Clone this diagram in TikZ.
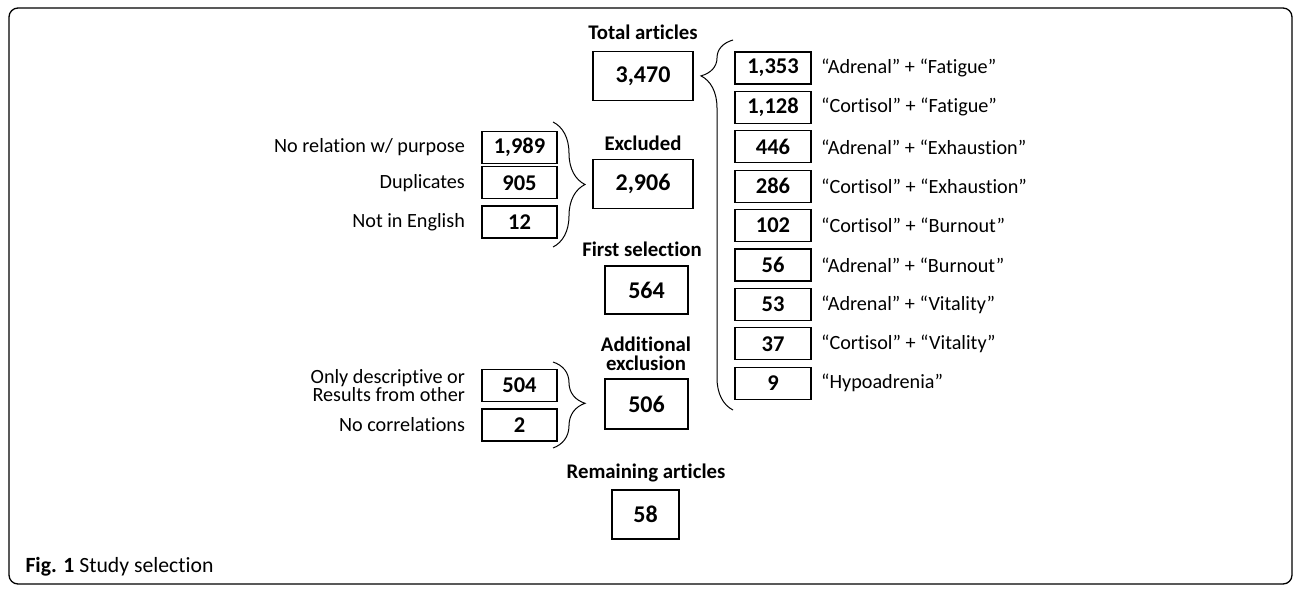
\documentclass[tikz,border=0pt]{standalone}
\usepackage{fontspec}
\setmainfont{Carlito}[Ligatures=NoCommon]
\usetikzlibrary{decorations.pathreplacing}
\tikzset{>=stealth}
\tikzset{
  bigbox/.style={draw,line width=1.8pt,minimum width=100pt,minimum height=49pt,inner sep=0pt,font=\bfseries\fontsize{24}{26}\selectfont},
  numbox/.style={draw,line width=1.1pt,minimum width=76pt,minimum height=32pt,inner sep=0pt,font=\bfseries\fontsize{22.5}{24}\selectfont},
  head/.style={font=\bfseries\fontsize{20.8}{18.5}\selectfont,align=center},
  txt/.style={font=\fontsize{20.2}{17}\selectfont},
  curly/.style={decorate,decoration={brace,amplitude=32pt,aspect=#1},line width=1pt}
}

\begin{document}
\begin{tikzpicture}[x=1pt,y=-1pt]
\useasboundingbox (0,0) rectangle (1296,590);
\draw[line width=1.3pt,rounded corners=9pt] (9,8) rectangle (1292,584);

% middle column
\node[head] (htot) at (643,32) {Total articles};
\node[bigbox] (tot) at (643,76) {3,470};
\node[head] (hexcl) at (643,143) {Excluded};
\node[bigbox] (excl) at (643,184) {2,906};
\node[head] (hfirst) at (642,249) {First selection};
\node[bigbox,minimum width=83pt,minimum height=48pt] (first) at (646.5,290) {564};
\node[head] (haddx) at (646,354) {Additional\\exclusion};
\node[bigbox,minimum width=83pt,minimum height=50pt] (addx) at (646.5,404) {506};
\node[head] (hrem) at (646,473) {Remaining articles};
\node[bigbox,minimum width=67pt] (rem) at (645.5,514.5) {58};

% search terms
\foreach \n/\t [count=\i] in {{1,353}/{“Adrenal” + “Fatigue”},{1,128}/{“Cortisol” + “Fatigue”},
  446/{“Adrenal” + “Exhaustion”},286/{“Cortisol” + “Exhaustion”},102/{“Cortisol” + “Burnout”},
  56/{“Adrenal” + “Burnout”},53/{“Adrenal” + “Vitality”},37/{“Cortisol” + “Vitality”},9/{“Hypoadrenia”}}{
  \node[numbox] (r\i) at (773,{68+39.4*(\i-1)}) {\n};
  \node[txt,anchor=west,xshift=6pt] (rl\i) at (r\i.east) {\t};
}

% exclusion reasons
\node[numbox,minimum width=75pt] (l1) at (519.5,147.5) {1,989};
\node[numbox,minimum width=75pt] (l2) at (519.5,182.7) {905};
\node[numbox,minimum width=75pt] (l3) at (519.5,222) {12};
\node[txt,anchor=east,xshift=-13pt] (ll1) at (l1.west) {No relation w/ purpose};
\node[txt,anchor=east,xshift=-13pt] (ll2) at (l2.west) {Duplicates};
\node[txt,anchor=east,xshift=-13pt] (ll3) at (l3.west) {Not in English};

\node[numbox,minimum width=75pt] (m1) at (519.5,385.5) {504};
\node[numbox,minimum width=75pt] (m2) at (519.5,425) {2};
\node[txt,anchor=east,xshift=-13pt,align=right] (ml1) at (m1.west) {Only descriptive or\\Results from other};
\node[txt,anchor=east,xshift=-13pt] (ml2) at (m2.west) {No correlations};

% braces
\coordinate (rb) at (733,410);
\coordinate (rt) at (733,40);
\draw[curly=0.903] (rb) -- (rt);
\coordinate (b1t) at (553,122);
\coordinate (b1b) at (553,247);
\draw[curly=0.5] (b1t) -- (b1b);
\coordinate (b2t) at (553,362);
\coordinate (b2b) at (553,448);
\draw[curly=0.48] (b2t) -- (b2b);

\node[anchor=base west,font=\fontsize{21.7}{23}\selectfont] (cap) at (22,572) {\textbf{Fig. 1} Study selection};
\end{tikzpicture}
\end{document}
